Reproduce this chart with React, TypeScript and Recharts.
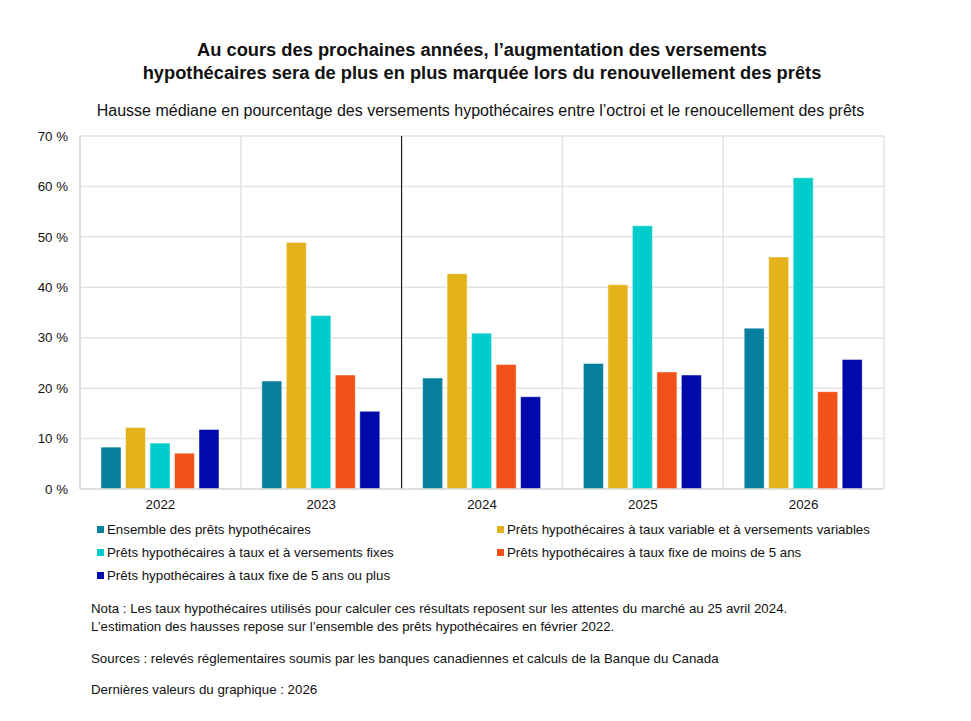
import * as React from "react"
import { Bar, BarChart, CartesianGrid, XAxis, YAxis } from "recharts"

const years = ["2022", "2023", "2024", "2025", "2026"]

// hausse médiane en %
const ensemble = [8.3, 21.4, 22.0, 24.9, 31.9]
const variableVariable = [12.2, 48.9, 42.7, 40.5, 46.0]
const fixeFixe = [9.1, 34.4, 30.9, 52.2, 61.7]
const fixeMoins5 = [7.1, 22.6, 24.7, 23.2, 19.3]
const fixe5Plus = [11.8, 15.4, 18.3, 22.6, 25.7]

const yTicks = [0, 10, 20, 30, 40, 50, 60, 70]

const series = [
  { key: "ensemble", name: "Ensemble des prêts hypothécaires", color: "#077f9e", values: ensemble },
  { key: "varvar", name: "Prêts hypothécaires à taux variable et à versements variables", color: "#e4b31c", values: variableVariable },
  { key: "fixfix", name: "Prêts hypothécaires à taux et à versements fixes", color: "#00cccc", values: fixeFixe },
  { key: "moins5", name: "Prêts hypothécaires à taux fixe de moins de 5 ans", color: "#f25118", values: fixeMoins5 },
  { key: "plus5", name: "Prêts hypothécaires à taux fixe de 5 ans ou plus", color: "#000aaa", values: fixe5Plus }
]

const data = years.map((year, i) => {
  const row: Record<string, any> = { year }
  series.forEach((s) => (row[s.key] = s.values[i]))
  return row
})

const font = "'Liberation Sans', Arial, sans-serif"

function boundaries(props: any, only?: number[]) {
  const o = props.offset || { left: 80, width: 804 }
  const idx = only || [0, 1, 2, 3, 4, 5]
  return idx.map((i) => o.left + (o.width * i) / years.length)
}

function LegendItem({ name, color, x, y }: { name: string; color: string; x: number; y: number }) {
  return (
    <div style={{ position: "absolute", left: x, top: y, display: "flex", alignItems: "center", fontSize: 13.3, color: "#111", whiteSpace: "nowrap" }}>
      <span style={{ width: 7, height: 7, background: color, marginRight: 3, display: "inline-block" }} />
      {name}
    </div>
  )
}

export default function App() {
  const noteStyle: React.CSSProperties = { position: "absolute", left: 91, fontSize: 13.3, color: "#111", whiteSpace: "nowrap" }
  return (
    <div style={{ position: "absolute", left: 0, top: 0, width: 971, height: 721, background: "#fff", fontFamily: font }}>
      <div style={{ position: "absolute", left: 0, width: 964, top: 38, textAlign: "center", fontWeight: "bold", fontSize: 18.3, lineHeight: "23px", color: "#111" }}>
        Au cours des prochaines années, l’augmentation des versements
        <br />
        hypothécaires sera de plus en plus marquée lors du renouvellement des prêts
      </div>
      <div style={{ position: "absolute", left: 0, width: 961, top: 102, textAlign: "center", fontSize: 16, color: "#111" }}>
        Hausse médiane en pourcentage des versements hypothécaires entre l’octroi et le renoucellement des prêts
      </div>

      <div style={{ position: "absolute", left: 0, top: 120 }}>
        <BarChart width={971} height={400} data={data} margin={{ top: 16, right: 87, bottom: 1, left: 0 }} barSize={20} barGap={4.5}>
          <CartesianGrid
            stroke="#e3e3e3"
            strokeWidth={1.5}
            verticalCoordinatesGenerator={(p: any) => boundaries(p)}
          />
          <CartesianGrid
            stroke="#000"
            strokeWidth={1}
            horizontal={false}
            verticalCoordinatesGenerator={(p: any) => boundaries(p, [2])}
          />
          <XAxis
            dataKey="year"
            height={30}
            tickLine={false}
            axisLine={{ stroke: "#d9d9d9", strokeWidth: 1.5 }}
            tick={{ fontSize: 13.3, fill: "#111", fontFamily: font }}
            tickMargin={5}
          />
          <YAxis
            width={80}
            domain={[0, 70]}
            ticks={yTicks}
            interval={0}
            tickLine={false}
            axisLine={{ stroke: "#d9d9d9", strokeWidth: 1.5 }}
            tickFormatter={(v: number) => `${v} %`}
            tick={{ fontSize: 13.3, fill: "#111", fontFamily: font }}
            tickSize={6}
            tickMargin={6}
          />
          {series.map((s) => (
            <Bar
              key={s.key}
              dataKey={s.key}
              name={s.name}
              fill={s.color}
              stroke="#ffffff"
              strokeOpacity={0.45}
              strokeWidth={1}
              isAnimationActive={false}
            />
          ))}
        </BarChart>
      </div>

      <LegendItem name={series[0].name} color={series[0].color} x={97} y={522} />
      <LegendItem name={series[1].name} color={series[1].color} x={497} y={522} />
      <LegendItem name={series[2].name} color={series[2].color} x={97} y={545} />
      <LegendItem name={series[3].name} color={series[3].color} x={497} y={545} />
      <LegendItem name={series[4].name} color={series[4].color} x={97} y={568} />

      <div style={{ ...noteStyle, top: 601 }}>
        Nota : Les taux hypothécaires utilisés pour calculer ces résultats reposent sur les attentes du marché au 25 avril 2024.
      </div>
      <div style={{ ...noteStyle, top: 619 }}>
        L’estimation des hausses repose sur l’ensemble des prêts hypothécaires en février 2022.
      </div>
      <div style={{ ...noteStyle, top: 651 }}>
        Sources : relevés réglementaires soumis par les banques canadiennes et calculs de la Banque du Canada
      </div>
      <div style={{ ...noteStyle, top: 682 }}>
        Dernières valeurs du graphique : 2026
      </div>
    </div>
  )
}
